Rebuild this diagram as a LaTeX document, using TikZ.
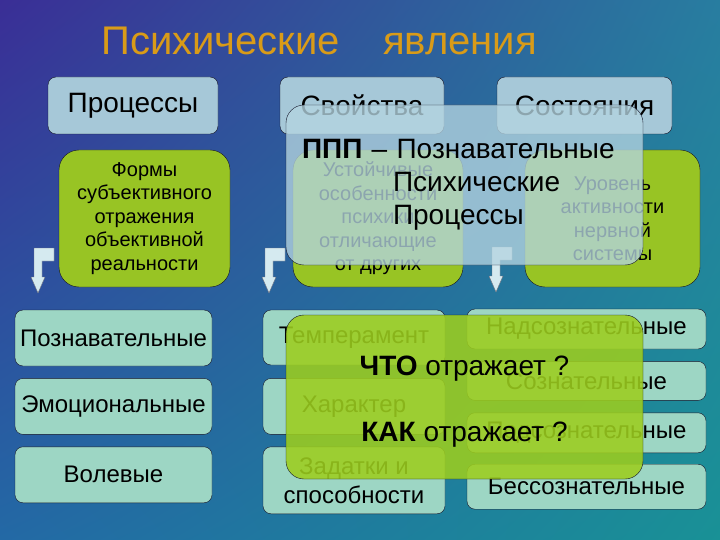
\documentclass[tikz,border=0pt]{standalone}
\usepackage{fontspec}
\setmainfont{Liberation Sans}
\usetikzlibrary{positioning,shadings}
\definecolor{ink}{HTML}{141428}
\definecolor{sky}{HTML}{A6C8D8}
\definecolor{leaf}{HTML}{98C424}
\definecolor{mint}{HTML}{9DD6C4}
\definecolor{haze}{HTML}{B4D4E0}
\definecolor{lime}{HTML}{9CCD1E}
\definecolor{pale}{HTML}{D5EAF0}
\definecolor{amber}{HTML}{D99B18}
\definecolor{bgtl}{RGB}{58,46,150}
\definecolor{bgtr}{RGB}{40,125,160}
\definecolor{bgbl}{RGB}{35,105,165}
\definecolor{bgbr}{RGB}{25,145,150}
\tikzset{
  ttl/.style={text=amber, inner sep=0pt, font=\fontsize{40}{48}\selectfont},
  head/.style={draw=ink, fill=sky, rounded corners=8pt, inner sep=0pt,
               font=\fontsize{28}{33}\selectfont, minimum height=57pt},
  gist/.style={draw=ink, fill=leaf, rounded corners=20pt, inner sep=0pt, align=center,
               font=\fontsize{20}{23.5}\selectfont, minimum width=171pt, minimum height=137pt},
  kind/.style={draw=ink, fill=mint, rounded corners=8pt, inner sep=0pt, align=center,
               font=\fontsize{24}{29}\selectfont},
  veil/.style={draw=ink, fill=haze, fill opacity=0.78, text opacity=1, rounded corners=18pt,
               font=\fontsize{28}{33}\selectfont, minimum width=357pt},
  limeveil/.style={veil, fill=lime, fill opacity=0.88},
  asktxt/.style={align=center, font=\fontsize{28}{33}\selectfont},
  bentdown/.pic={\draw[draw=ink!60, fill=pale] (0,0) -- (20,0) -- (20,-13) -- (8,-13)
                 -- (8,-29) -- (11,-29) -- (4,-45) -- (-3,-29) -- (0,-29) -- cycle;},
}
\begin{document}
\begin{tikzpicture}[x=1pt, y=1pt]
\useasboundingbox (0,0) rectangle (720,-540);
\shade[upper left=bgtl, upper right=bgtr, lower left=bgbl, lower right=bgbr]
  (0,0) rectangle (720,-540);

\node[ttl, anchor=base] (title) at (319,-55) {Психические\hspace{43pt}явления};

% --- three headings ---
\node[head, minimum width=170pt] (proc)  at (133,-105.5) {Процессы};
\node[head, minimum width=164pt] (prop)  at (362,-105.5) {Свойства};
\node[head, minimum width=175pt] (state) at (584.5,-105.5) {Состояния};

% --- what each one is ---
\node[gist] (procgist) at (144.5,-218.5)
  {Формы\\субъективного\\отражения\\объективной\\реальности};
\node[gist, minimum width=170pt] (propgist) at (378,-218.5)
  {Устойчивые\\особенности\\психики\\отличающие\\от других};
\node[gist, minimum width=175pt] (stategist) at (612.5,-218.5)
  {Уровень\\активности\\нервной\\системы};

\pic at (34,-248) {bentdown};
\pic at (265,-248) {bentdown};
\pic at (492,-247) {bentdown};

% --- processes ---
\node[kind, minimum width=197pt, minimum height=56pt] (cog) at (113.5,-338) {Познавательные};
\node[kind, minimum width=197pt, minimum height=56pt] (emo) [below=12pt of cog] {Эмоциональные};
\node[kind, minimum width=197pt, minimum height=56pt] (will) [below=12pt of emo] {Волевые};

% --- properties ---
\node[kind, minimum width=182pt, minimum height=55pt] (temper) at (354,-337.5) {Темперамент};
\node[kind, minimum width=182pt, minimum height=56pt] (charact) [below=13pt of temper] {Характер};
\node[kind, minimum width=182pt, minimum height=67pt] (talent) [below=12pt of charact]
  {Задатки и\\способности};

% --- states ---
\node[kind, minimum width=239pt, minimum height=40pt] (supra) at (586.5,-329) {Надсознательные};
\node[kind, minimum width=239pt, minimum height=39pt] (consc) [below=12pt of supra] {Сознательные};
\node[kind, minimum width=239pt, minimum height=40pt] (subc) [below=12pt of consc] {Подсознательные};
\node[kind, minimum width=239pt, minimum height=45pt] (uncon) [below=11pt of subc] {Бессознательные};

% --- overlays ---
\node[veil, minimum height=160pt, text width=325pt, inner xsep=16pt, align=left] (ppp)
  at (464.5,-185)
  {\textbf{ППП} – Познавательные\\\hspace*{91pt}Психические\\\hspace*{91pt}Процессы};
\node[limeveil, minimum height=164pt] (ask) at (464.5,-397) {};
\node[asktxt] (asktext) at ([yshift=-5pt]ask.center)
  {\textbf{ЧТО} отражает ?\\[33pt]\textbf{КАК} отражает ?};

\end{tikzpicture}
\end{document}
